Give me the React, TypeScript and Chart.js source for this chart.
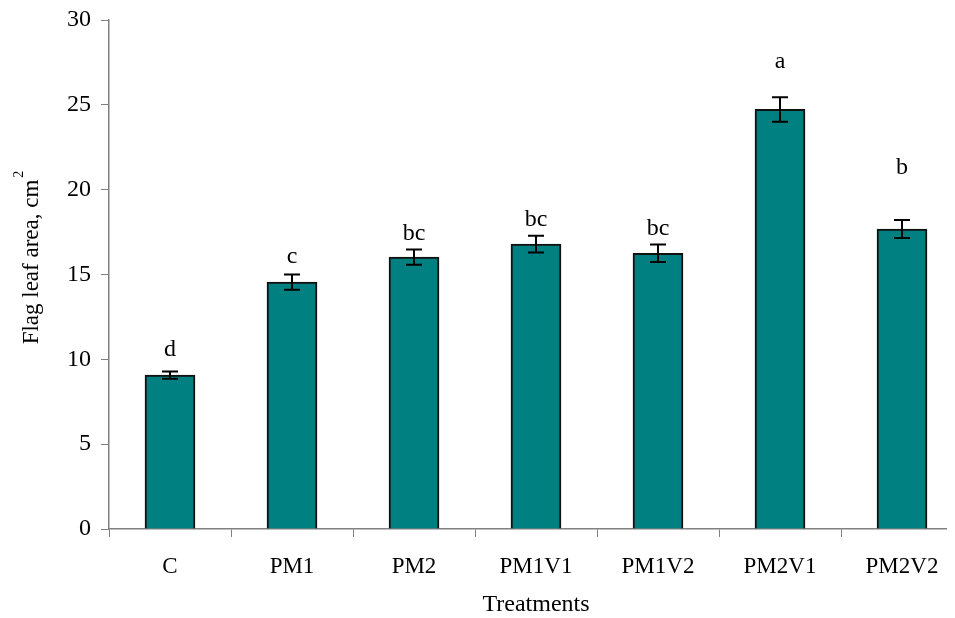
import React, { useEffect, useRef } from "react";
import { Chart, registerables } from "chart.js";

Chart.register(...registerables);

const categories = ["C", "PM1", "PM2", "PM1V1", "PM1V2", "PM2V1", "PM2V2"];
const means = [9.07, 14.55, 16.03, 16.79, 16.25, 24.73, 17.68];
const errors = [0.22, 0.45, 0.45, 0.5, 0.52, 0.72, 0.53];
const letters = ["d", "c", "bc", "bc", "bc", "a", "b"];
const letterHeights = [10.2, 15.66, 17.05, 17.85, 17.32, 27.15, 20.9];
const yTicks = [0, 5, 10, 15, 20, 25, 30];

const SERIF = "'Liberation Serif', 'Times New Roman', serif";

const annotPlugin = {
  id: "annot",
  afterDatasetsDraw(chart: any) {
    const ctx = chart.ctx;
    const x = chart.scales.x;
    const y = chart.scales.y;
    ctx.save();
    ctx.strokeStyle = "#000";
    ctx.lineWidth = 2;
    means.forEach((m, i) => {
      const px = x.getPixelForValue(i);
      const top = y.getPixelForValue(m + errors[i]);
      const bot = y.getPixelForValue(m - errors[i]);
      ctx.beginPath();
      ctx.moveTo(px, top);
      ctx.lineTo(px, bot);
      ctx.moveTo(px - 8, top);
      ctx.lineTo(px + 8, top);
      ctx.moveTo(px - 8, bot);
      ctx.lineTo(px + 8, bot);
      ctx.stroke();
      ctx.fillStyle = "#000";
      ctx.font = `24px ${SERIF}`;
      ctx.textAlign = "center";
      ctx.textBaseline = "alphabetic";
      ctx.fillText(letters[i], px, y.getPixelForValue(letterHeights[i]));
    });
    // y title
    const ca = chart.chartArea;
    ctx.save();
    ctx.translate(24, (ca.top + ca.bottom) / 2 - 17);
    ctx.rotate(-Math.PI / 2);
    ctx.fillStyle = "#000";
    ctx.font = `23px ${SERIF}`;
    ctx.textBaseline = "middle";
    const main = "Flag leaf area, cm";
    const w = ctx.measureText(main).width;
    ctx.font = `14px ${SERIF}`;
    const w2 = ctx.measureText("2").width;
    const start = -(w + w2 + 2) / 2;
    ctx.font = `23px ${SERIF}`;
    ctx.textAlign = "left";
    ctx.fillText(main, start, 0);
    ctx.font = `14px ${SERIF}`;
    ctx.fillText("2", start + w + 2, -13);
    ctx.restore();
    // x title
    ctx.font = `24px ${SERIF}`;
    ctx.textAlign = "center";
    ctx.textBaseline = "middle";
    ctx.fillStyle = "#000";
    ctx.fillText("Treatments", 528, 597);
    ctx.restore();
  },
};

export default function App() {
  const ref = useRef<HTMLCanvasElement | null>(null);
  useEffect(() => {
    if (!ref.current) return;
    const chart = new Chart(ref.current, {
      type: "bar",
      data: {
        labels: categories,
        datasets: [
          {
            data: means,
            backgroundColor: "#008080",
            borderColor: "#111",
            borderWidth: 2,
            barThickness: 50,
          },
        ],
      },
      options: {
        responsive: false,
        animation: false,
        layout: { padding: { top: 12, right: 10, left: 0, bottom: 0 } },
        plugins: { legend: { display: false }, tooltip: { enabled: false } },
        scales: {
          x: {
            grid: {
              offset: true,
              drawOnChartArea: false,
              drawTicks: true,
              tickLength: 8,
              color: "#808080",
            },
            border: { color: "#808080", width: 1.5 },
            ticks: {
              color: "#000",
              font: { family: SERIF, size: 23 },
              padding: 16,
              maxRotation: 0,
            },
            afterFit: (s: any) => {
              s.height = 89;
              s.paddingLeft = 0;
              s.paddingRight = 0;
            },
          },
          y: {
            min: 0,
            max: 30,
            afterBuildTicks: (s: any) => {
              s.ticks = yTicks.map((v) => ({ value: v }));
            },
            grid: {
              drawOnChartArea: false,
              tickLength: 8,
              color: "#808080",
            },
            border: { color: "#808080", width: 1.5 },
            ticks: {
              color: "#000",
              font: { family: SERIF, size: 24 },
              padding: 10,
            },
            afterFit: (s: any) => {
              s.width = 101;
              s.paddingTop = 0;
              s.paddingBottom = 0;
            },
          },
        },
      },
      plugins: [annotPlugin],
    });
    return () => chart.destroy();
  }, []);
  return (
    <div style={{ width: 947, height: 610, overflow: "hidden" }}>
      <canvas ref={ref} width={965} height={610} style={{ display: "block" }} />
    </div>
  );
}
